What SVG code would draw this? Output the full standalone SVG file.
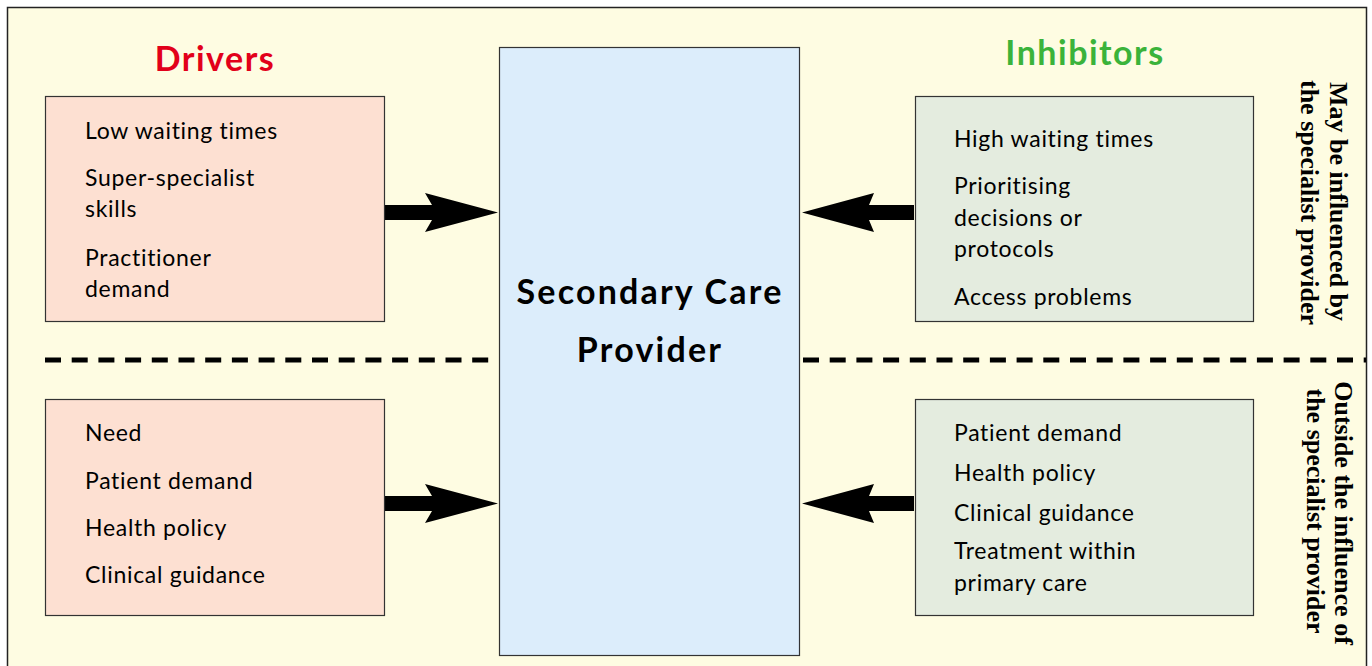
<svg xmlns="http://www.w3.org/2000/svg" width="1372" height="666" viewBox="0 0 1372 666">
  <defs>
    <style>
      .frame { fill: #fefce2; stroke: #222; stroke-width: 1.5; }
      .box { stroke: #333; stroke-width: 1.2; }
      .driver { fill: #fde0d2; }
      .inhib { fill: #e4ecdf; }
      .core { fill: #dcedfb; }
      text { font-variant-ligatures: none; }
      .item { font-family: Lato, "Open Sans", sans-serif; font-size: 23px; letter-spacing: 0.7px; fill: #000; }
      .heading { font-family: Lato, "Open Sans", sans-serif; font-size: 34px; letter-spacing: 1.5px; font-weight: bold; text-anchor: middle; }
      .core-label { font-family: Lato, "Open Sans", sans-serif; font-size: 34px; letter-spacing: 2.2px; font-weight: bold; text-anchor: middle; fill: #000; }
      .side { font-family: "Liberation Serif", "Times New Roman", serif; font-size: 26px; font-weight: bold; fill: #000; }
      .divider { stroke: #000; stroke-width: 5; stroke-dasharray: 16 10.7; fill: none; }
      .arrow { fill: #000; }
    </style>
  </defs>

  <!-- page frame -->
  <rect class="frame" x="7.5" y="7.5" width="1359" height="680"/>

  <!-- column headings -->
  <text class="heading" x="215" y="71" fill="#e2001a">Drivers</text>
  <text class="heading" x="1085" y="65" fill="#3bb33a">Inhibitors</text>

  <g id="connectors">
    <!-- dashed divider between the two zones -->
    <line class="divider" x1="45" y1="360" x2="495" y2="360"/>
    <line class="divider" x1="803" y1="360" x2="1366" y2="360"/>

    <!-- block arrows into the provider -->
    <path class="arrow" d="M385,205 H432 L425,193 L498,212.5 L425,232 L432,220 H385 Z"/>
    <path class="arrow" d="M385,496 H432 L425,484 L498,503.5 L425,523 L432,511 H385 Z"/>
    <path class="arrow" d="M914,205 H869 L874,193 L802,212.5 L874,232 L869,220 H914 Z"/>
    <path class="arrow" d="M914,496 H869 L874,484 L802,503.5 L874,523 L869,511 H914 Z"/>
  </g>

  <!-- central provider -->
  <g id="provider">
    <rect class="box core" x="499.5" y="47.5" width="300" height="608"/>
    <text class="core-label" x="650" y="304">Secondary Care</text>
    <text class="core-label" x="650" y="362">Provider</text>
  </g>

  <!-- drivers the provider can influence -->
  <g id="drivers-influenced">
    <rect class="box driver" x="45.5" y="96.5" width="339" height="225"/>
    <text class="item" x="85" y="139">Low waiting times</text>
    <text class="item" x="85" y="186">Super-specialist</text>
    <text class="item" x="85" y="217">skills</text>
    <text class="item" x="85" y="266">Practitioner</text>
    <text class="item" x="85" y="297">demand</text>
  </g>

  <!-- drivers outside the provider's influence -->
  <g id="drivers-outside">
    <rect class="box driver" x="45.5" y="399.5" width="339" height="216"/>
    <text class="item" x="85" y="441">Need</text>
    <text class="item" x="85" y="489">Patient demand</text>
    <text class="item" x="85" y="536">Health policy</text>
    <text class="item" x="85" y="583">Clinical guidance</text>
  </g>

  <!-- inhibitors the provider can influence -->
  <g id="inhibitors-influenced">
    <rect class="box inhib" x="915.5" y="96.5" width="338" height="225"/>
    <text class="item" x="954" y="147">High waiting times</text>
    <text class="item" x="954" y="194">Prioritising</text>
    <text class="item" x="954" y="226">decisions or</text>
    <text class="item" x="954" y="257">protocols</text>
    <text class="item" x="954" y="305">Access problems</text>
  </g>

  <!-- inhibitors outside the provider's influence -->
  <g id="inhibitors-outside">
    <rect class="box inhib" x="915.5" y="399.5" width="338" height="216"/>
    <text class="item" x="954" y="441">Patient demand</text>
    <text class="item" x="954" y="481">Health policy</text>
    <text class="item" x="954" y="521">Clinical guidance</text>
    <text class="item" x="954" y="559">Treatment within</text>
    <text class="item" x="954" y="591">primary care</text>
  </g>

  <!-- side captions for the two zones -->
  <g id="zone-labels">
    <text class="side" transform="translate(1330,82) rotate(90)">May be influenced by</text>
    <text class="side" transform="translate(1301,80) rotate(90)">the specialist provider</text>
    <text class="side" transform="translate(1335,513) rotate(90)" text-anchor="middle">Outside the influence of</text>
    <text class="side" transform="translate(1307,511) rotate(90)" text-anchor="middle">the specialist provider</text>
  </g>
</svg>
